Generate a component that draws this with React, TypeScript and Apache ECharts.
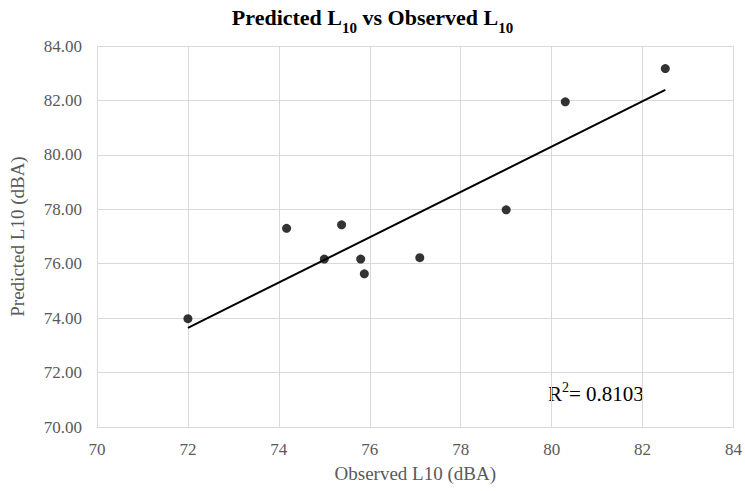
import React, { useEffect, useRef } from "react";
import * as echarts from "echarts";

const observed = [72.0, 74.17, 75.0, 75.38, 75.8, 75.88, 77.1, 79.0, 80.3, 82.5];
const predicted = [73.98, 77.3, 76.17, 77.43, 76.17, 75.63, 76.22, 77.98, 81.95, 83.17];
const trendX = [72.0, 82.5];
const trendY = [73.64, 82.39];
const xTicks = [70, 72, 74, 76, 78, 80, 82, 84];
const yTicks = [70, 72, 74, 76, 78, 80, 82, 84];
const r2Text = "0.8103";

const FONT = "'Liberation Serif', 'Times New Roman', serif";

export default function App() {
  const ref = useRef<HTMLDivElement>(null);
  useEffect(() => {
    document.body.style.margin = "0";
    if (!ref.current) return;
    const chart = echarts.init(ref.current, null, { renderer: "svg" });
    const points = observed.map((x, i) => [x, predicted[i]]);
    const trend = trendX.map((x, i) => [x, trendY[i]]);
    chart.setOption({
      animation: false,
      backgroundColor: "#ffffff",
      title: {
        text: "{a|Predicted L}{s|10}{a| vs Observed L}{s|10}",
        left: "center",
        top: 1,
        textStyle: {
          rich: {
            a: { fontFamily: FONT, fontWeight: "bold", fontSize: 22, color: "#000000", lineHeight: 27, verticalAlign: "top" },
            s: { fontFamily: FONT, fontWeight: "bold", fontSize: 15, color: "#000000", lineHeight: 15, verticalAlign: "top", padding: [14, 0, 0, 0] },
          },
        },
      },
      grid: { left: 85, right: 8, top: 46, bottom: 64, containLabel: false },
      xAxis: {
        type: "value",
        min: xTicks[0],
        max: xTicks[xTicks.length - 1],
        interval: 2,
        name: "Observed L10 (dBA)",
        nameLocation: "middle",
        nameGap: 37,
        nameTextStyle: { fontFamily: FONT, fontSize: 19, color: "#595959" },
        axisLine: { show: true, lineStyle: { color: "#d9d9d9", width: 1 } },
        axisTick: { show: false },
        axisLabel: { fontFamily: FONT, fontSize: 17, color: "#595959", margin: 14 },
        splitLine: { show: true, lineStyle: { color: "#d9d9d9", width: 1 } },
      },
      yAxis: {
        type: "value",
        min: yTicks[0],
        max: yTicks[yTicks.length - 1],
        interval: 2,
        name: "Predicted L10 (dBA)",
        nameLocation: "middle",
        nameGap: 70,
        nameRotate: 90,
        nameTextStyle: { fontFamily: FONT, fontSize: 19, color: "#595959" },
        axisLine: { show: true, lineStyle: { color: "#d9d9d9", width: 1 } },
        axisTick: { show: false },
        axisLabel: {
          fontFamily: FONT,
          fontSize: 17,
          color: "#595959",
          margin: 15,
          formatter: (v: number) => v.toFixed(2),
        },
        splitLine: { show: true, lineStyle: { color: "#d9d9d9", width: 1 } },
      },
      graphic: [
        {
          type: "text",
          left: 548,
          top: 380,
          style: {
            text: "{r|R}{s|2}{r|= " + r2Text + "}",
            rich: {
              r: { fontFamily: FONT, fontSize: 21, color: "#404040", lineHeight: 24, verticalAlign: "bottom" },
              s: { fontFamily: FONT, fontSize: 14, color: "#404040", lineHeight: 24, verticalAlign: "top", padding: [0, 0, 9, 0] },
            },
          },
        },
      ],
      series: [
        {
          type: "scatter",
          data: points,
          symbol: "circle",
          symbolSize: 9,
          itemStyle: { color: "#000000" },
          z: 3,
        },
        {
          type: "line",
          data: trend,
          showSymbol: false,
          symbol: "none",
          lineStyle: { color: "#000000", width: 2 },
          z: 2,
        },
      ],
    });
    return () => chart.dispose();
  }, []);
  return <div ref={ref} style={{ width: 745, height: 491 }} />;
}
